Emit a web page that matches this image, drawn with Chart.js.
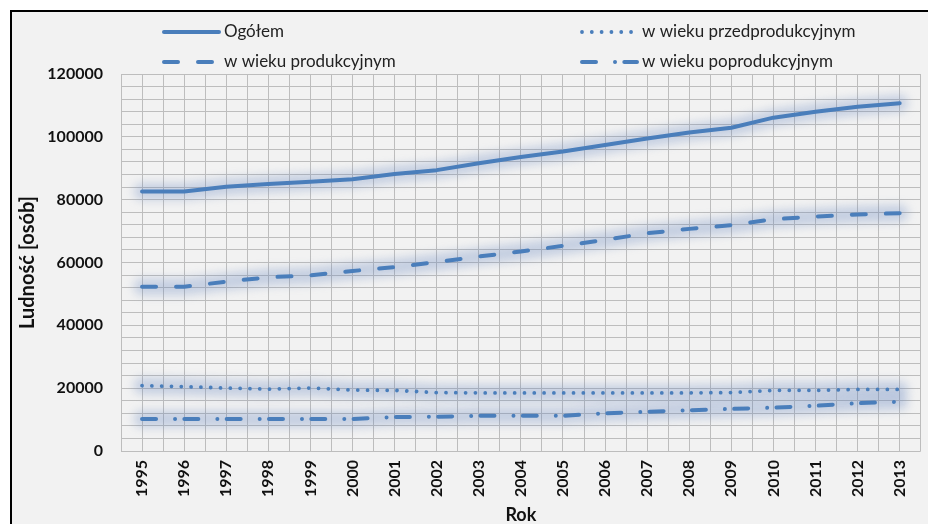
<!DOCTYPE html>
<html>
<head>
<meta charset="utf-8">
<script src="https://cdn.jsdelivr.net/npm/chart.js@4/dist/chart.umd.min.js"></script>
<style>
  html, body { margin: 0; padding: 0; background: #ffffff; width: 928px; height: 524px; overflow: hidden; }
  #frame { position: absolute; left: 10px; top: 10px; width: 940px; height: 540px; border: 2px solid #000; background: #f2f2f2; }
  #c { position: absolute; left: 0; top: 0; }
</style>
</head>
<body>
<div id="frame"></div>
<canvas id="c" width="928" height="524"></canvas>
<script>
// ---- data ----
const years = ['1995','1996','1997','1998','1999','2000','2001','2002','2003','2004','2005','2006','2007','2008','2009','2010','2011','2012','2013'];
const ogolem      = [82600, 82600, 84100, 85000, 85700, 86500, 88200, 89400, 91600, 93600, 95300, 97400, 99500, 101400, 102900, 106100, 108000, 109600, 110700];
const przedprod   = [20800, 20500, 20050, 19700, 20050, 19400, 19300, 18600, 18500, 18500, 18500, 18500, 18500, 18500, 18600, 19300, 19300, 19600, 19600];
const produkcyjny = [52300, 52300, 53900, 55300, 55900, 57300, 58500, 60100, 61900, 63500, 65300, 67200, 69300, 70700, 71900, 73800, 74600, 75300, 75700];
const poprod      = [10200, 10200, 10200, 10200, 10200, 10200, 10800, 10900, 11200, 11200, 11200, 12000, 12500, 12950, 13400, 13800, 14400, 15200, 15700];
const seriesNames = ['Ogółem', 'w wieku przedprodukcyjnym', 'w wieku produkcyjnym', 'w wieku poprodukcyjnym'];
const yTickLabels = [0, 20000, 40000, 60000, 80000, 100000, 120000];
const yTitle = 'Ludność [osób]';
const xTitle = 'Rok';

const BLUE = '#4a7ebb';
const FONT = 'Lato, "Open Sans", sans-serif';

const glowPlugin = {
  id: 'glow',
  beforeDatasetsDraw(chart) {
    const ctx = chart.ctx;
    ctx.save();
    ctx.filter = 'blur(5px)';
    ctx.strokeStyle = 'rgba(95,130,190,0.30)';
    ctx.lineWidth = 17;
    ctx.lineCap = 'round';
    ctx.lineJoin = 'round';
    chart.data.datasets.forEach((d, i) => {
      const pts = chart.getDatasetMeta(i).data;
      ctx.beginPath();
      pts.forEach((p, j) => j ? ctx.lineTo(p.x, p.y) : ctx.moveTo(p.x, p.y));
      ctx.stroke();
    });
    ctx.restore();
  }
};

const legendPlugin = {
  id: 'customLegend',
  afterDraw(chart) {
    const ctx = chart.ctx;
    const pos = [[164, 32], [582, 32], [164, 62], [582, 62]];
    ctx.save();
    chart.data.datasets.forEach((d, i) => {
      const [x, y] = pos[i];
      ctx.beginPath();
      ctx.strokeStyle = d.borderColor;
      ctx.lineWidth = d.borderWidth;
      ctx.lineCap = d.borderCapStyle || 'butt';
      ctx.setLineDash(d.borderDash || []);
      ctx.moveTo(x, y);
      ctx.lineTo(x + 55, y);
      ctx.stroke();
      ctx.setLineDash([]);
      ctx.fillStyle = '#222';
      ctx.font = '17px ' + FONT;
      ctx.textBaseline = 'middle';
      ctx.textAlign = 'left';
      ctx.fillText(d.label, x + 60, y);
    });
    ctx.restore();
  }
};

new Chart(document.getElementById('c'), {
  type: 'line',
  data: {
    labels: years,
    datasets: [
      { label: seriesNames[0], data: ogolem, borderColor: BLUE, borderWidth: 4, borderCapStyle: 'round', borderDash: [] },
      { label: seriesNames[1], data: przedprod, borderColor: BLUE, borderWidth: 3.8, borderCapStyle: 'round', borderDash: [0.01, 9.8] },
      { label: seriesNames[2], data: produkcyjny, borderColor: BLUE, borderWidth: 4, borderCapStyle: 'round', borderDash: [14, 20] },
      { label: seriesNames[3], data: poprod, borderColor: BLUE, borderWidth: 4, borderCapStyle: 'round', borderDash: [14, 19, 0.01, 9.3] }
    ].map(d => Object.assign(d, { pointRadius: 0, tension: 0, fill: false, xAxisID: 'x', yAxisID: 'y', borderJoinStyle: 'round' }))
  },
  options: {
    responsive: false,
    animation: false,
    layout: { padding: { top: 74, left: 0, right: 4, bottom: 0 } },
    plugins: { legend: { display: false }, tooltip: { enabled: false } },
    scales: {
      x: {
        type: 'category',
        offset: true,
        grid: { display: false, drawTicks: false },
        border: { display: false },
        ticks: { minRotation: 90, maxRotation: 90, autoSkip: false, padding: 9, color: '#111', font: { family: FONT, size: 16, weight: 'bold' } },
        title: { display: true, text: xTitle, color: '#111', padding: { top: 0, bottom: 0 }, font: { family: FONT, size: 18, weight: 'bold', lineHeight: 1.0 } },
        afterFit(s) { s.height = 73; }
      },
      xg: {
        type: 'linear',
        position: 'bottom',
        min: -0.5, max: 18.5,
        ticks: { display: false, stepSize: 0.5 },
        grid: { color: '#bdbdbd', lineWidth: 1, drawTicks: false },
        border: { display: false },
        afterFit(s) { s.height = 0; }
      },
      y: {
        min: 0, max: 120000,
        grid: { color: '#bdbdbd', lineWidth: 1, drawTicks: false },
        border: { display: false },
        ticks: {
          stepSize: 4000, autoSkip: false, padding: 18, color: '#111',
          font: { family: FONT, size: 16, weight: 'bold' },
          callback: v => yTickLabels.includes(v) ? String(v) : ''
        },
        title: { display: true, text: yTitle, color: '#111', padding: { top: 16, bottom: 0 }, font: { family: FONT, size: 20, weight: 'bold', lineHeight: 1.2 } },
        afterFit(s) { s.width = 121; }
      }
    }
  },
  plugins: [glowPlugin, legendPlugin]
});
</script>
</body>
</html>
